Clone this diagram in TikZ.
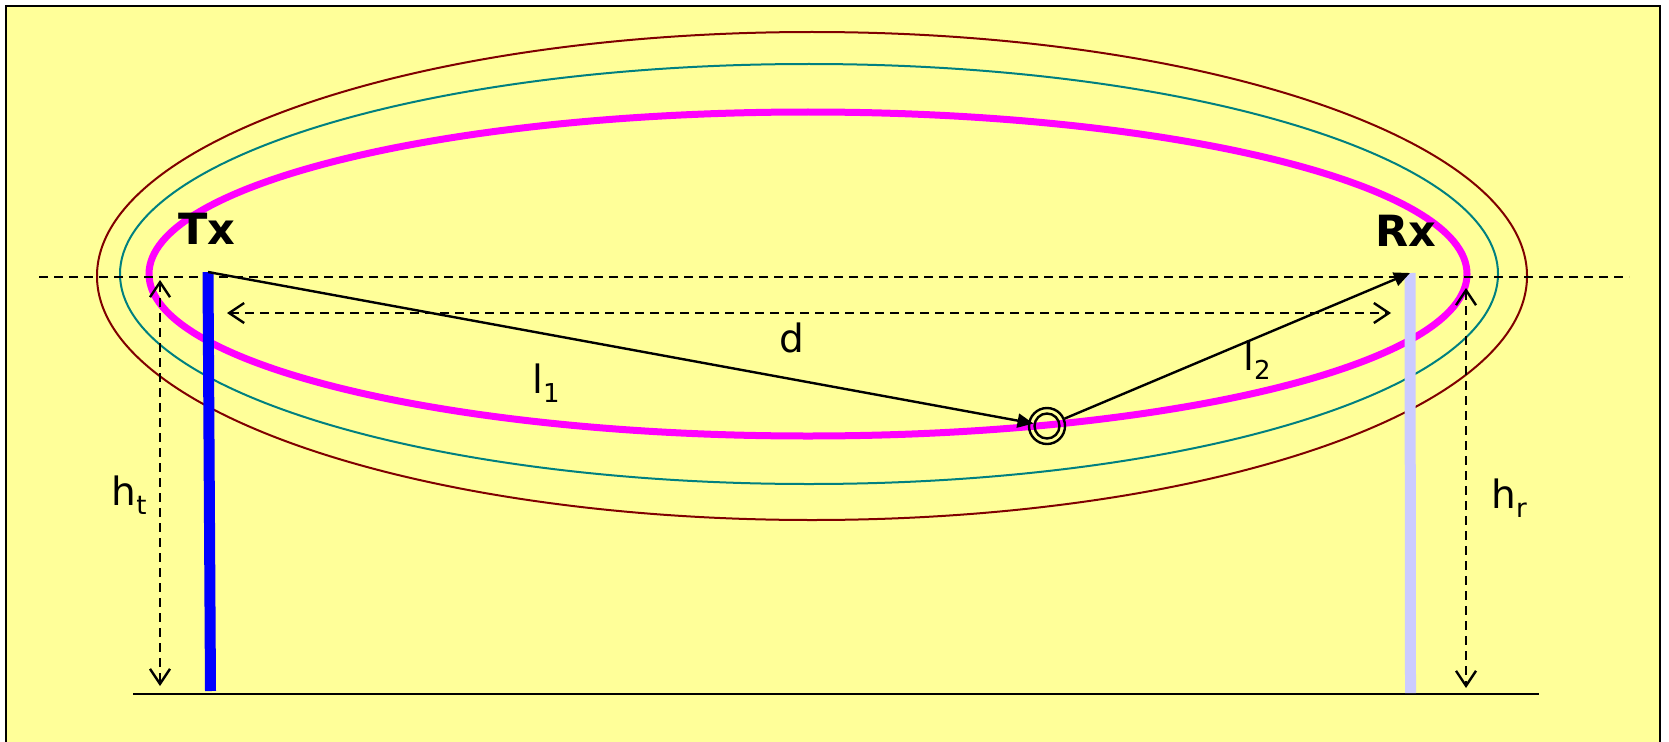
\documentclass[tikz,border=0pt]{standalone}
\usepackage{fontspec}
\setmainfont{DejaVu Sans}
\usetikzlibrary{arrows.meta}

\definecolor{padyellow}{HTML}{FFFF99}
\definecolor{zonemag}{HTML}{FF00FF}
\definecolor{zoneteal}{HTML}{008080}
\definecolor{zonered}{HTML}{800000}
\definecolor{rxpole}{HTML}{CCCCFF}

\newcommand{\lowidx}[1]{\raisebox{-9pt}{\fontsize{26}{26}\selectfont #1}}

\begin{document}
\begin{tikzpicture}[x=1pt, y=-1pt, line width=2.4pt,
	lbl/.style={font=\fontsize{39}{41}\selectfont, inner sep=0pt},
	bold lbl/.style={font=\fontsize{43}{46}\selectfont\bfseries, inner sep=0pt},
	dimline/.style={dash pattern=on 9pt off 6pt, {Straight Barb[length=15pt,width=20pt]}-{Straight Barb[length=15pt,width=20pt]}},
	ray/.style={-{Triangle[length=16pt,width=14pt]}},
	pole/.style={line width=11pt}]
		\useasboundingbox (0,0) rectangle (1669,741);
		% frame
		\fill[padyellow] (6,6) rectangle (1660,760);
		\draw[line width=2.5pt] (6,760) -- (6,6) -- (1660,6) -- (1660,760);
		
		% zones
		\draw[zonered, line width=2pt] (812,276) ellipse [x radius=715, y radius=244];
		\draw[zoneteal, line width=2pt] (809,274) ellipse [x radius=689, y radius=210];
		\draw[zonemag, line width=7pt] (808,274) ellipse [x radius=659, y radius=162];
		
		% ground and horizon
		\draw (133,694) -- (1539,694);
		\draw[dash pattern=on 9pt off 6pt] (39,277) -- (1629,277);
		
		% antennas
		\coordinate (txtop) at (208,272); \coordinate (txbot) at (210.5,691);
		\coordinate (rxtop) at (1410,273); \coordinate (rxbot) at (1410.5,693);
		\draw[pole, blue] (txtop) -- (txbot);
		\draw[pole, rxpole] (rxtop) -- (rxbot);
		\node[bold lbl] (tx) at (207,229) {Tx};
		\node[bold lbl] (rx) at (1406,231) {Rx};
		
		% reflection point
		\node[circle, draw, minimum size=25pt, inner sep=0pt] (refl) at (1047,426) {};
		\node[circle, draw, minimum size=36pt, inner sep=0pt] (reflout) at (refl) {};
		\draw[ray] (txtop) -- (refl);
		\draw[ray] (reflout) -- (rxtop);
		\node[lbl] (l1) at (546,383) {l\lowidx{1}};
		\node[lbl] (l2) at (1257,360) {l\lowidx{2}};
		
		% distances
		\coordinate (dl) at (227,313); \coordinate (dr) at (1391,313);
		\draw[dimline] (dl) -- (dr);
		\node[lbl] (d) at (792,338) {d};
		\coordinate (htt) at (160,280); \coordinate (htb) at (160,686);
		\draw[dimline] (htt) -- (htb);
		\node[lbl] (ht) at (129,495) {h\lowidx{t}};
		\coordinate (hrt) at (1466,288); \coordinate (hrb) at (1466,688);
		\draw[dimline] (hrt) -- (hrb);
		\node[lbl] (hr) at (1509,498) {h\lowidx{r}};
	\end{tikzpicture}
\end{document}
